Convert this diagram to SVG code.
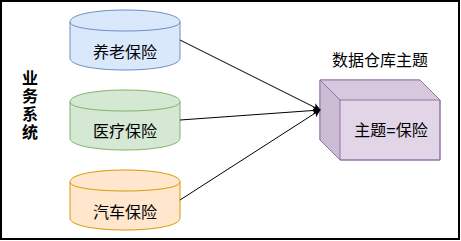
<svg xmlns="http://www.w3.org/2000/svg" width="461" height="241" viewBox="0 0 461 241">
<defs>
<style>
text{font-family:"Liberation Sans","Noto Sans CJK SC",sans-serif;font-size:16px;fill:#000;text-anchor:middle;dominant-baseline:central}
.blue{fill:#dae8fc;stroke:#6c8ebf}
.green{fill:#d5e8d4;stroke:#82b366}
.orange{fill:#ffe6cc;stroke:#d79b00}
.arc{fill:none}
.edge{fill:none;stroke:#000;stroke-width:1}
</style>
<marker id="arrow" viewBox="0 0 10 10" refX="9" refY="5" markerWidth="8" markerHeight="8" orient="auto" markerUnits="userSpaceOnUse">
<path d="M0,0 L10,5 L0,10 L2.5,5 Z" fill="#000"/>
</marker>
</defs>
<rect x="1" y="1" width="458" height="238" fill="#fff" stroke="#000" stroke-width="2"/>
<g id="label-business">
<text x="30" y="78" font-weight="bold">业</text>
<text x="30" y="96" font-weight="bold">务</text>
<text x="30" y="114" font-weight="bold">系</text>
<text x="30" y="132" font-weight="bold">统</text>
</g>
<g id="node-yanglao">
<path class="blue" d="M70,22 C70,6 180,6 180,22 L180,58 C180,74 70,74 70,58 Z"/>
<path class="blue arc" d="M70,22 C70,34 180,34 180,22"/>
<text x="125" y="52">养老保险</text>
</g>
<g id="node-yiliao">
<path class="green" d="M70,102 C70,86 180,86 180,102 L180,138 C180,154 70,154 70,138 Z"/>
<path class="green arc" d="M70,102 C70,114 180,114 180,102"/>
<text x="125" y="131">医疗保险</text>
</g>
<g id="node-qiche">
<path class="orange" d="M70,182 C70,166 180,166 180,182 L180,218 C180,234 70,234 70,218 Z"/>
<path class="orange arc" d="M70,182 C70,194 180,194 180,182"/>
<text x="125" y="212">汽车保险</text>
</g>
<g id="label-dw">
<text x="380" y="60">数据仓库主题</text>
</g>
<g id="node-subject">
<path d="M320,80 L420,80 L440,100 L440,160 L340,160 L320,140 Z" fill="#e1d5e7" stroke="#9673a6"/>
<path d="M320,80 L420,80 L440,100 L340,100 Z" fill="#d6c9dd" stroke="none"/>
<path d="M320,80 L340,100 L340,160 L320,140 Z" fill="#cbbcd3" stroke="none"/>
<path d="M320,80 L420,80 L440,100 L440,160 L340,160 L320,140 Z M340,160 L340,100 L440,100 M340,100 L320,80" fill="none" stroke="#9673a6"/>
<text x="391" y="130">主题=保险</text>
</g>
<g id="connectors">
<path class="edge" d="M180,40 L320,110" marker-end="url(#arrow)"/>
<path class="edge" d="M180,120 L320,110" marker-end="url(#arrow)"/>
<path class="edge" d="M180,200 L320,110" marker-end="url(#arrow)"/>
</g>
</svg>
